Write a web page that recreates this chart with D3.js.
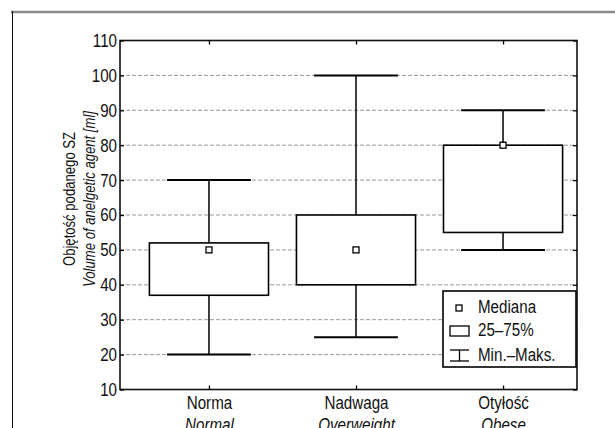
<!DOCTYPE html>
<html>
<head>
<meta charset="utf-8">
<script src="https://cdn.jsdelivr.net/npm/d3@7/dist/d3.min.js"></script>
<style>
  html, body { margin: 0; padding: 0; background: #fff; }
  svg { display: block; }
  text { font-family: "Liberation Sans", Arial, sans-serif; fill: #111; }
</style>
</head>
<body>
<svg id="chart" width="615" height="428"></svg>
<script>
// ---- data ----
const categories = ["Norma", "Nadwaga", "Otyłość"];
const categoriesEn = ["Normal", "Overweight", "Obese"];
const minValues = [20, 25, 50];
const q1Values = [37, 40, 55];
const medianValues = [50, 50, 80];
const q3Values = [52, 60, 80];
const maxValues = [70, 100, 90];
const yTicks = [10, 20, 30, 40, 50, 60, 70, 80, 90, 100, 110];
const gridTicks = [20, 30, 40, 50, 60, 70, 80, 90, 100];
const legendLabels = ["Mediana", "25–75%", "Min.–Maks."];
const yTitle = ["Objętość podanego SZ", "Volume of anelgetic agent [ml]"];

// ---- layout ----
const svg = d3.select("#chart");
const plot = { left: 120, right: 577, top: 40.5, bottom: 389.5 };

const x = d3.scaleLinear().domain([0.395, 3.503]).range([plot.left, plot.right]);
const y = d3.scaleLinear().domain([10, 110]).range([plot.bottom, plot.top]);

const boxHalf = 0.405;
const capHalf = 0.285;
const fs = 18.5;
const narrow = 0.82;

// outer frame
svg.append("line").attr("x1", 11).attr("x2", 615).attr("y1", 12).attr("y2", 12)
  .attr("stroke", "#8a8a8a").attr("stroke-width", 2.5);
svg.append("line").attr("x1", 12.5).attr("x2", 12.5).attr("y1", 11).attr("y2", 428)
  .attr("stroke", "#111").attr("stroke-width", 1);

// gridlines
svg.append("g").selectAll("line").data(gridTicks).join("line")
  .attr("x1", plot.left).attr("x2", plot.right)
  .attr("y1", d => y(d)).attr("y2", d => y(d))
  .attr("stroke", "#9a9a9a").attr("stroke-width", 1)
  .attr("stroke-dasharray", "4,2");

const data = categories.map((c, i) => ({
  i: i + 1, min: minValues[i], q1: q1Values[i], med: medianValues[i], q3: q3Values[i], max: maxValues[i]
}));

const g = svg.append("g");
g.selectAll(".stem").data(data).join("line")
  .attr("x1", d => x(d.i)).attr("x2", d => x(d.i))
  .attr("y1", d => y(d.min)).attr("y2", d => y(d.max))
  .attr("stroke", "#000").attr("stroke-width", 1.5);
["min", "max"].forEach(k => {
  g.selectAll(".cap-" + k).data(data).join("line")
    .attr("x1", d => x(d.i - capHalf)).attr("x2", d => x(d.i + capHalf))
    .attr("y1", d => y(d[k])).attr("y2", d => y(d[k]))
    .attr("stroke", "#000").attr("stroke-width", 2);
});
g.selectAll(".box").data(data).join("rect")
  .attr("x", d => x(d.i - boxHalf)).attr("width", d => x(d.i + boxHalf) - x(d.i - boxHalf))
  .attr("y", d => y(d.q3)).attr("height", d => y(d.q1) - y(d.q3))
  .attr("fill", "#fff").attr("stroke", "#000").attr("stroke-width", 1.6);
g.selectAll(".med").data(data).join("rect")
  .attr("x", d => x(d.i) - 3).attr("y", d => y(d.med) - 3)
  .attr("width", 6).attr("height", 6)
  .attr("fill", "#fff").attr("stroke", "#000").attr("stroke-width", 1.3);

// plot border
svg.append("rect").attr("x", plot.left).attr("y", plot.top)
  .attr("width", plot.right - plot.left).attr("height", plot.bottom - plot.top)
  .attr("fill", "none").attr("stroke", "#111").attr("stroke-width", 1.6);

// axes (inward ticks)
const yAxisL = d3.axisLeft(y).tickValues(yTicks).tickSizeInner(-4).tickSizeOuter(0).tickPadding(3);
const yAxisR = d3.axisRight(y).tickValues(yTicks).tickSizeInner(-4).tickSizeOuter(0).tickFormat("");
const xAxisB = d3.axisBottom(x).tickValues([1, 2, 3]).tickSizeInner(-4).tickSizeOuter(0)
  .tickFormat(d => categories[d - 1]).tickPadding(6.5);
const xAxisT = d3.axisTop(x).tickValues([1, 2, 3]).tickSizeInner(-4).tickSizeOuter(0).tickFormat("");

function style(sel) {
  sel.select(".domain").remove();
  sel.selectAll(".tick line").attr("stroke", "#000").attr("stroke-width", 1.3);
  sel.selectAll(".tick text").attr("font-size", fs).attr("fill", "#111")
    .style("font-family", '"Liberation Sans", Arial, sans-serif');
}
svg.append("g").attr("transform", `translate(${plot.left},0)`).call(yAxisL).call(style);
svg.append("g").attr("transform", `translate(${plot.right},0)`).call(yAxisR).call(style);
const xb = svg.append("g").attr("transform", `translate(0,${plot.bottom})`).call(xAxisB).call(style);
svg.append("g").attr("transform", `translate(0,${plot.top})`).call(xAxisT).call(style);

// second (English, italic) line of category labels
xb.selectAll(".tick").append("text")
  .attr("y", 41.5).attr("text-anchor", "middle")
  .attr("font-size", fs).attr("font-style", "italic").attr("fill", "#111")
  .text(d => categoriesEn[d - 1]);

// y title
const tcy = 199;
svg.append("text").attr("transform", `translate(75,${tcy}) rotate(-90)`)
  .attr("text-anchor", "middle").attr("font-size", 16).text(yTitle[0]);
svg.append("text").attr("transform", `translate(95,${tcy}) rotate(-90)`)
  .attr("text-anchor", "middle").attr("font-size", 16).attr("font-style", "italic").text(yTitle[1]);

// legend
const lg = svg.append("g");
lg.append("rect").attr("x", 443).attr("y", 291).attr("width", 133).attr("height", 76)
  .attr("fill", "#fff").attr("stroke", "#000").attr("stroke-width", 1.6);
const rows = [313, 336, 361];
lg.append("rect").attr("x", 456).attr("y", 305).attr("width", 6).attr("height", 6)
  .attr("fill", "#fff").attr("stroke", "#000").attr("stroke-width", 1.3);
lg.append("rect").attr("x", 450).attr("y", 326).attr("width", 19).attr("height", 10)
  .attr("fill", "#fff").attr("stroke", "#000").attr("stroke-width", 1.3);
lg.append("line").attr("x1", 450).attr("x2", 469).attr("y1", 350).attr("y2", 350).attr("stroke", "#000").attr("stroke-width", 1.3);
lg.append("line").attr("x1", 450).attr("x2", 469).attr("y1", 361).attr("y2", 361).attr("stroke", "#000").attr("stroke-width", 1.3);
lg.append("line").attr("x1", 459.5).attr("x2", 459.5).attr("y1", 350).attr("y2", 361).attr("stroke", "#000").attr("stroke-width", 1.3);
lg.selectAll(".lt").data(legendLabels).join("text")
  .attr("x", 478).attr("y", (d, i) => rows[i]).attr("font-size", fs).text(d => d);

// condense all text horizontally (narrow typeface look), scaling about each text's anchor x
svg.selectAll("text").each(function () {
  if (!this.textContent) return;
  const ax = parseFloat(this.getAttribute("x")) || 0;
  const prev = this.getAttribute("transform") || "";
  this.setAttribute("transform",
    `${prev} translate(${ax},0) scale(${narrow},1) translate(${-ax},0)`.trim());
});
</script>
</body>
</html>
